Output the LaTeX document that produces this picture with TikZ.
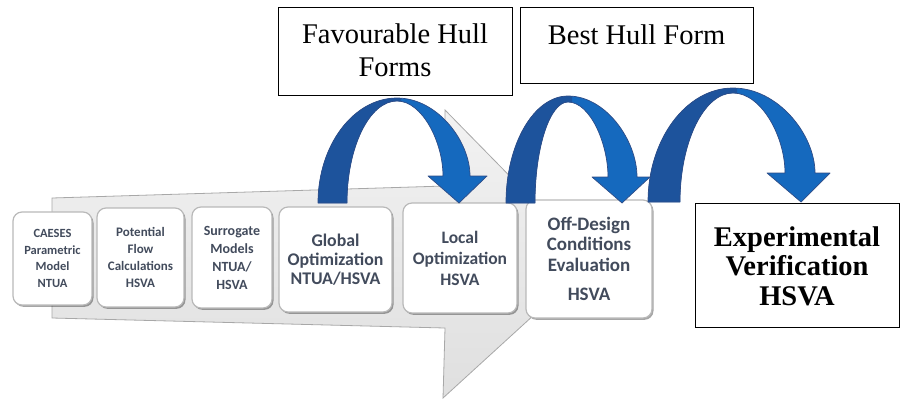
\documentclass[tikz,border=0pt]{standalone}
\usepackage{fontspec}
\setmainfont{Liberation Serif}
\newfontfamily\carl{Carlito}
\usetikzlibrary{shadows}
\definecolor{boxtext}{HTML}{424B5C}
\definecolor{arcdark}{HTML}{1D539C}
\definecolor{arclight}{HTML}{1569BE}
\definecolor{arcedge}{HTML}{2E4C86}
\definecolor{bandedge}{HTML}{A8A8A8}
\begin{document}
\begin{tikzpicture}[x=1pt,y=-1pt,
  pbox/.style={draw=gray!55, line width=1.2pt, fill=white, rounded corners=9pt,
    align=center, text=boxtext, inner sep=1pt,
    drop shadow={shadow xshift=1.5pt, shadow yshift=-1.8pt, opacity=0.35, fill=black}},
  topbox/.style={draw=black, line width=1pt, fill=white},
  toptext/.style={align=center, font=\fontsize{28.5}{33}\selectfont},
  bandstyle/.style={draw=bandedge, line width=0.8pt, top color=gray!10, bottom color=gray!25}
]
\useasboundingbox (0,0) rectangle (901,400);

% big grey process arrow
\path[bandstyle] (52,198) -- (445,186) -- (445,110) -- (593,261) -- (443,398)
  -- (445,328) -- (52,318) -- cycle;

% process boxes
\node[pbox, minimum width=79pt, minimum height=93pt,
  font={\carl\bfseries\fontsize{12.5}{16.5}\selectfont}] (caeses) at (52.5,258.5)
  {CAESES\\Parametric\\Model\\NTUA};
\node[pbox, minimum width=87pt, minimum height=99pt,
  font={\carl\bfseries\fontsize{13}{17}\selectfont}] (potential) at (140.5,257.5)
  {Potential\\Flow\\Calculations\\HSVA};
\node[pbox, minimum width=80pt, minimum height=101pt,
  font={\carl\bfseries\fontsize{14}{18}\selectfont}] (surrogate) at (232,257.5)
  {Surrogate\\Models\\NTUA/\\HSVA};
\node[pbox, minimum width=113pt, minimum height=105pt,
  font={\carl\bfseries\fontsize{17.8}{19}\selectfont}] (global) at (335.5,259.5)
  {Global\\Optimization\\NTUA/HSVA};
\node[pbox, minimum width=114pt, minimum height=110pt,
  font={\carl\bfseries\fontsize{17.5}{21}\selectfont}] (local) at (460,258)
  {Local\\Optimization\\HSVA};
\node[pbox, minimum width=126pt, minimum height=118pt,
  font={\carl\bfseries\fontsize{19}{20.5}\selectfont}] (offdesign) at (589,259)
  {Off-Design\\Conditions\\Evaluation\\[9pt]HSVA};

% blue curved arrows
\foreach \xL/\xLi/\xA/\yA/\yI/\xRo/\xRi/\wL/\wR/\xT/\yB/\yT in {
    318/347/397/98/101/470/443/428/487/459/176/203,
    506/535/568/96/102/637/608/592/650/622/177/203,
    648/680/733/88/93/815/785/767/830/801/173/202}{
  \pgfmathsetmacro\ca{\yT-0.55*(\yT-\yA)}
  \pgfmathsetmacro\cb{\xA-0.55*(\xA-\xL)}
  \pgfmathsetmacro\cc{\xA+0.55*(\xRo-\xA)}
  \pgfmathsetmacro\cd{\yB-0.45*(\yB-\yA)}
  \pgfmathsetmacro\ce{\yB-0.45*(\yB-\yI)}
  \pgfmathsetmacro\cf{\xA+0.55*(\xRi-\xA)}
  \pgfmathsetmacro\cg{\xA-0.55*(\xA-\xLi)}
  \pgfmathsetmacro\ch{\yT-0.55*(\yT-\yI)}
  \pgfmathsetmacro\clipL{\xL-5}
  \pgfmathsetmacro\clipR{\xA+4}
  \fill[arclight] (\xL,\yT) .. controls (\xL,\ca) and (\cb,\yA) .. (\xA,\yA)
    .. controls (\cc,\yA) and (\xRo,\cd) .. (\xRo,\yB) -- (\wR,\yB) -- (\xT,\yT)
    -- (\wL,\yB) -- (\xRi,\yB) .. controls (\xRi,\ce) and (\cf,\yI) .. (\xA,\yI)
    .. controls (\cg,\yI) and (\xLi,\ch) .. (\xLi,\yT) -- cycle;
  \begin{scope}
    \clip (\clipL,0) rectangle (\clipR,215);
    \fill[arcdark] (\xL,\yT) .. controls (\xL,\ca) and (\cb,\yA) .. (\xA,\yA)
      .. controls (\cc,\yA) and (\xRo,\cd) .. (\xRo,\yB) -- (\wR,\yB) -- (\xT,\yT)
      -- (\wL,\yB) -- (\xRi,\yB) .. controls (\xRi,\ce) and (\cf,\yI) .. (\xA,\yI)
      .. controls (\cg,\yI) and (\xLi,\ch) .. (\xLi,\yT) -- cycle;
  \end{scope}
  \draw[arcedge, line width=0.7pt, line join=round] (\xL,\yT) .. controls (\xL,\ca) and (\cb,\yA) .. (\xA,\yA)
    .. controls (\cc,\yA) and (\xRo,\cd) .. (\xRo,\yB) -- (\wR,\yB) -- (\xT,\yT)
    -- (\wL,\yB) -- (\xRi,\yB) .. controls (\xRi,\ce) and (\cf,\yI) .. (\xA,\yI)
    .. controls (\cg,\yI) and (\xLi,\ch) .. (\xLi,\yT) -- cycle;
}

% result boxes
\node[topbox, minimum width=234pt, minimum height=88pt] (favourable) at (395,51) {};
\node[toptext] (favtext) at (395,50) {Favourable Hull\\Forms};
\node[topbox, minimum width=233pt, minimum height=76pt] (besthull) at (636.5,45) {};
\node[toptext] (besttext) at (636.5,35) {Best Hull Form};
\node[topbox, minimum width=204pt, minimum height=124pt] (experimental) at (797,265) {};
\node[align=center, font=\bfseries\fontsize{28.5}{29.5}\selectfont] (exptext) at (797,266)
  {Experimental\\Verification\\HSVA};
\end{tikzpicture}
\end{document}
